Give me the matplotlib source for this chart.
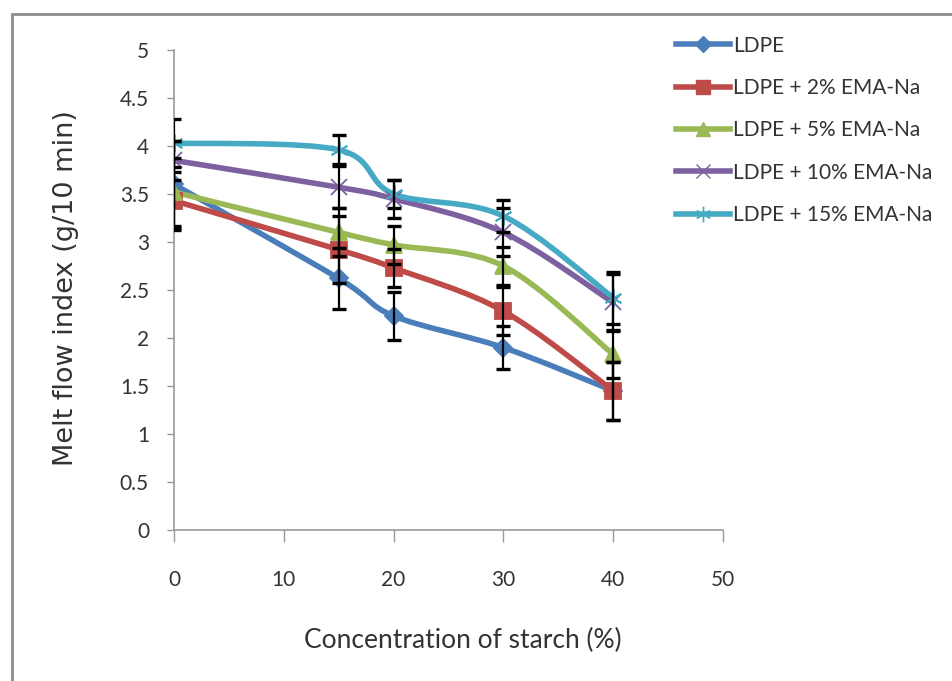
import matplotlib
matplotlib.use("Agg")
import matplotlib.pyplot as plt
from matplotlib.path import Path
from matplotlib.patches import PathPatch, Rectangle
from matplotlib.lines import Line2D

# data
starch = [0, 15, 20, 30, 40]
ldpe = [3.60, 2.62, 2.23, 1.90, 1.45]
ema2 = [3.43, 2.92, 2.73, 2.28, 1.45]
ema5 = [3.52, 3.10, 2.97, 2.75, 1.83]
ema10 = [3.85, 3.57, 3.45, 3.10, 2.37]
ema15 = [4.03, 3.96, 3.50, 3.27, 2.42]
err_ldpe = [0.45, 0.32, 0.25, 0.22, 0.30]
err_ema2 = [0.30, 0.35, 0.20, 0.25, 0.30]
err_ema5 = [0.35, 0.25, 0.20, 0.20, 0.25]
err_ema10 = [0.20, 0.22, 0.20, 0.25, 0.30]
err_ema15 = [0.25, 0.15, 0.15, 0.17, 0.27]
labels = ["LDPE", "LDPE + 2% EMA-Na", "LDPE + 5% EMA-Na",
          "LDPE + 10% EMA-Na", "LDPE + 15% EMA-Na"]
xticks = [0, 10, 20, 30, 40, 50]
yticks = [0, 0.5, 1, 1.5, 2, 2.5, 3, 3.5, 4, 4.5, 5]
ytick_labels = ["0", "0.5", "1", "1.5", "2", "2.5", "3", "3.5", "4", "4.5", "5"]

STYLE = [  # colour, marker, size
    ("#4A7EBB", "D", 9.5),
    ("#BE4B48", "s", 12),
    ("#98B954", "^", 11.5),
    ("#7D60A0", "x", 12),
    ("#46AAC5", (6, 2, 0), 13),
]

NARROW = ["Liberation Sans Narrow", "Lato", "DejaVu Sans"]
TXT = "#333333"


def smooth_path(xs, ys):
    """Excel-like smoothed line as cubic Bezier segments."""
    pts = list(zip(xs, ys))
    verts = [pts[0]]
    codes = [Path.MOVETO]
    n = len(pts)
    for i in range(n - 1):
        p0 = pts[max(i - 1, 0)]
        p1, p2 = pts[i], pts[i + 1]
        p3 = pts[min(i + 2, n - 1)]
        c1 = (p1[0] + (p2[0] - p0[0]) / 6, p1[1] + (p2[1] - p0[1]) / 6)
        c2 = (p2[0] - (p3[0] - p1[0]) / 6, p2[1] - (p3[1] - p1[1]) / 6)
        verts += [c1, c2, p2]
        codes += [Path.CURVE4] * 3
    return Path(verts, codes)


fig = plt.figure(figsize=(9.52, 6.81), dpi=100)
fig.patches.append(Rectangle((12 / 952, -0.05), 1.2, 1 - 14 / 681 + 0.05,
                             transform=fig.transFigure, fill=False,
                             edgecolor="#8c8c8c", linewidth=2))
ax = fig.add_axes([174 / 952, 1 - 530 / 681, (723 - 174) / 952, (530 - 50) / 681])

series = [ldpe, ema2, ema5, ema10, ema15]
errors = [err_ldpe, err_ema2, err_ema5, err_ema10, err_ema15]
handles = []
for ys, es, (col, mk, ms), lab in zip(series, errors, STYLE, labels):
    ax.add_patch(PathPatch(smooth_path(starch, ys), fill=False, edgecolor=col,
                           linewidth=4, zorder=2, capstyle="round"))
    ax.errorbar(starch, ys, yerr=es, fmt="none", ecolor="black", elinewidth=1.6,
                capsize=4.7, capthick=2.4, zorder=4)
    ax.plot(starch, ys, linestyle="none", marker=mk, markersize=ms, color=col,
            markeredgecolor=col, markeredgewidth=1.3, zorder=3)
    handles.append(Line2D([], [], color=col, linewidth=4, marker=mk,
                          markersize=ms * 0.85, markeredgecolor=col, label=lab))

ax.set_xlim(0, 50)
ax.set_ylim(0, 5)
ax.set_xticks(xticks)
ax.set_yticks(yticks)
ax.set_yticklabels(ytick_labels)
for s in ["top", "right"]:
    ax.spines[s].set_visible(False)
for s in ["left", "bottom"]:
    ax.spines[s].set_color("#999999")
    ax.spines[s].set_linewidth(1.2)
ax.tick_params(axis="y", direction="out", length=5, width=1, color="#999999",
               pad=13, labelsize=15, labelcolor=TXT)
ax.tick_params(axis="x", direction="out", length=8.5, width=1, color="#999999",
               pad=20, labelsize=15, labelcolor=TXT)
for t in ax.get_xticklabels() + ax.get_yticklabels():
    t.set_family(NARROW)
ax.patch.set_alpha(0)

fig.text(66 / 952, 1 - 288 / 681, "Melt flow index (g/10 min)", rotation=90,
         ha="center", va="center", fontsize=19.5, color=TXT, family=["DejaVu Sans"])
fig.text(463 / 952, 1 - 640 / 681, "Concentration of starch (%)",
         ha="center", va="center", fontsize=19, color=TXT, family=NARROW)

leg = fig.legend(handles=handles, loc="upper left",
                 bbox_to_anchor=(657 / 952, 1 - 17 / 681), frameon=False,
                 handlelength=2.6, handletextpad=0.15, labelspacing=1.07,
                 prop={"family": NARROW, "size": 15})
for t in leg.get_texts():
    t.set_color(TXT)

fig.savefig("out.png", dpi=100)
